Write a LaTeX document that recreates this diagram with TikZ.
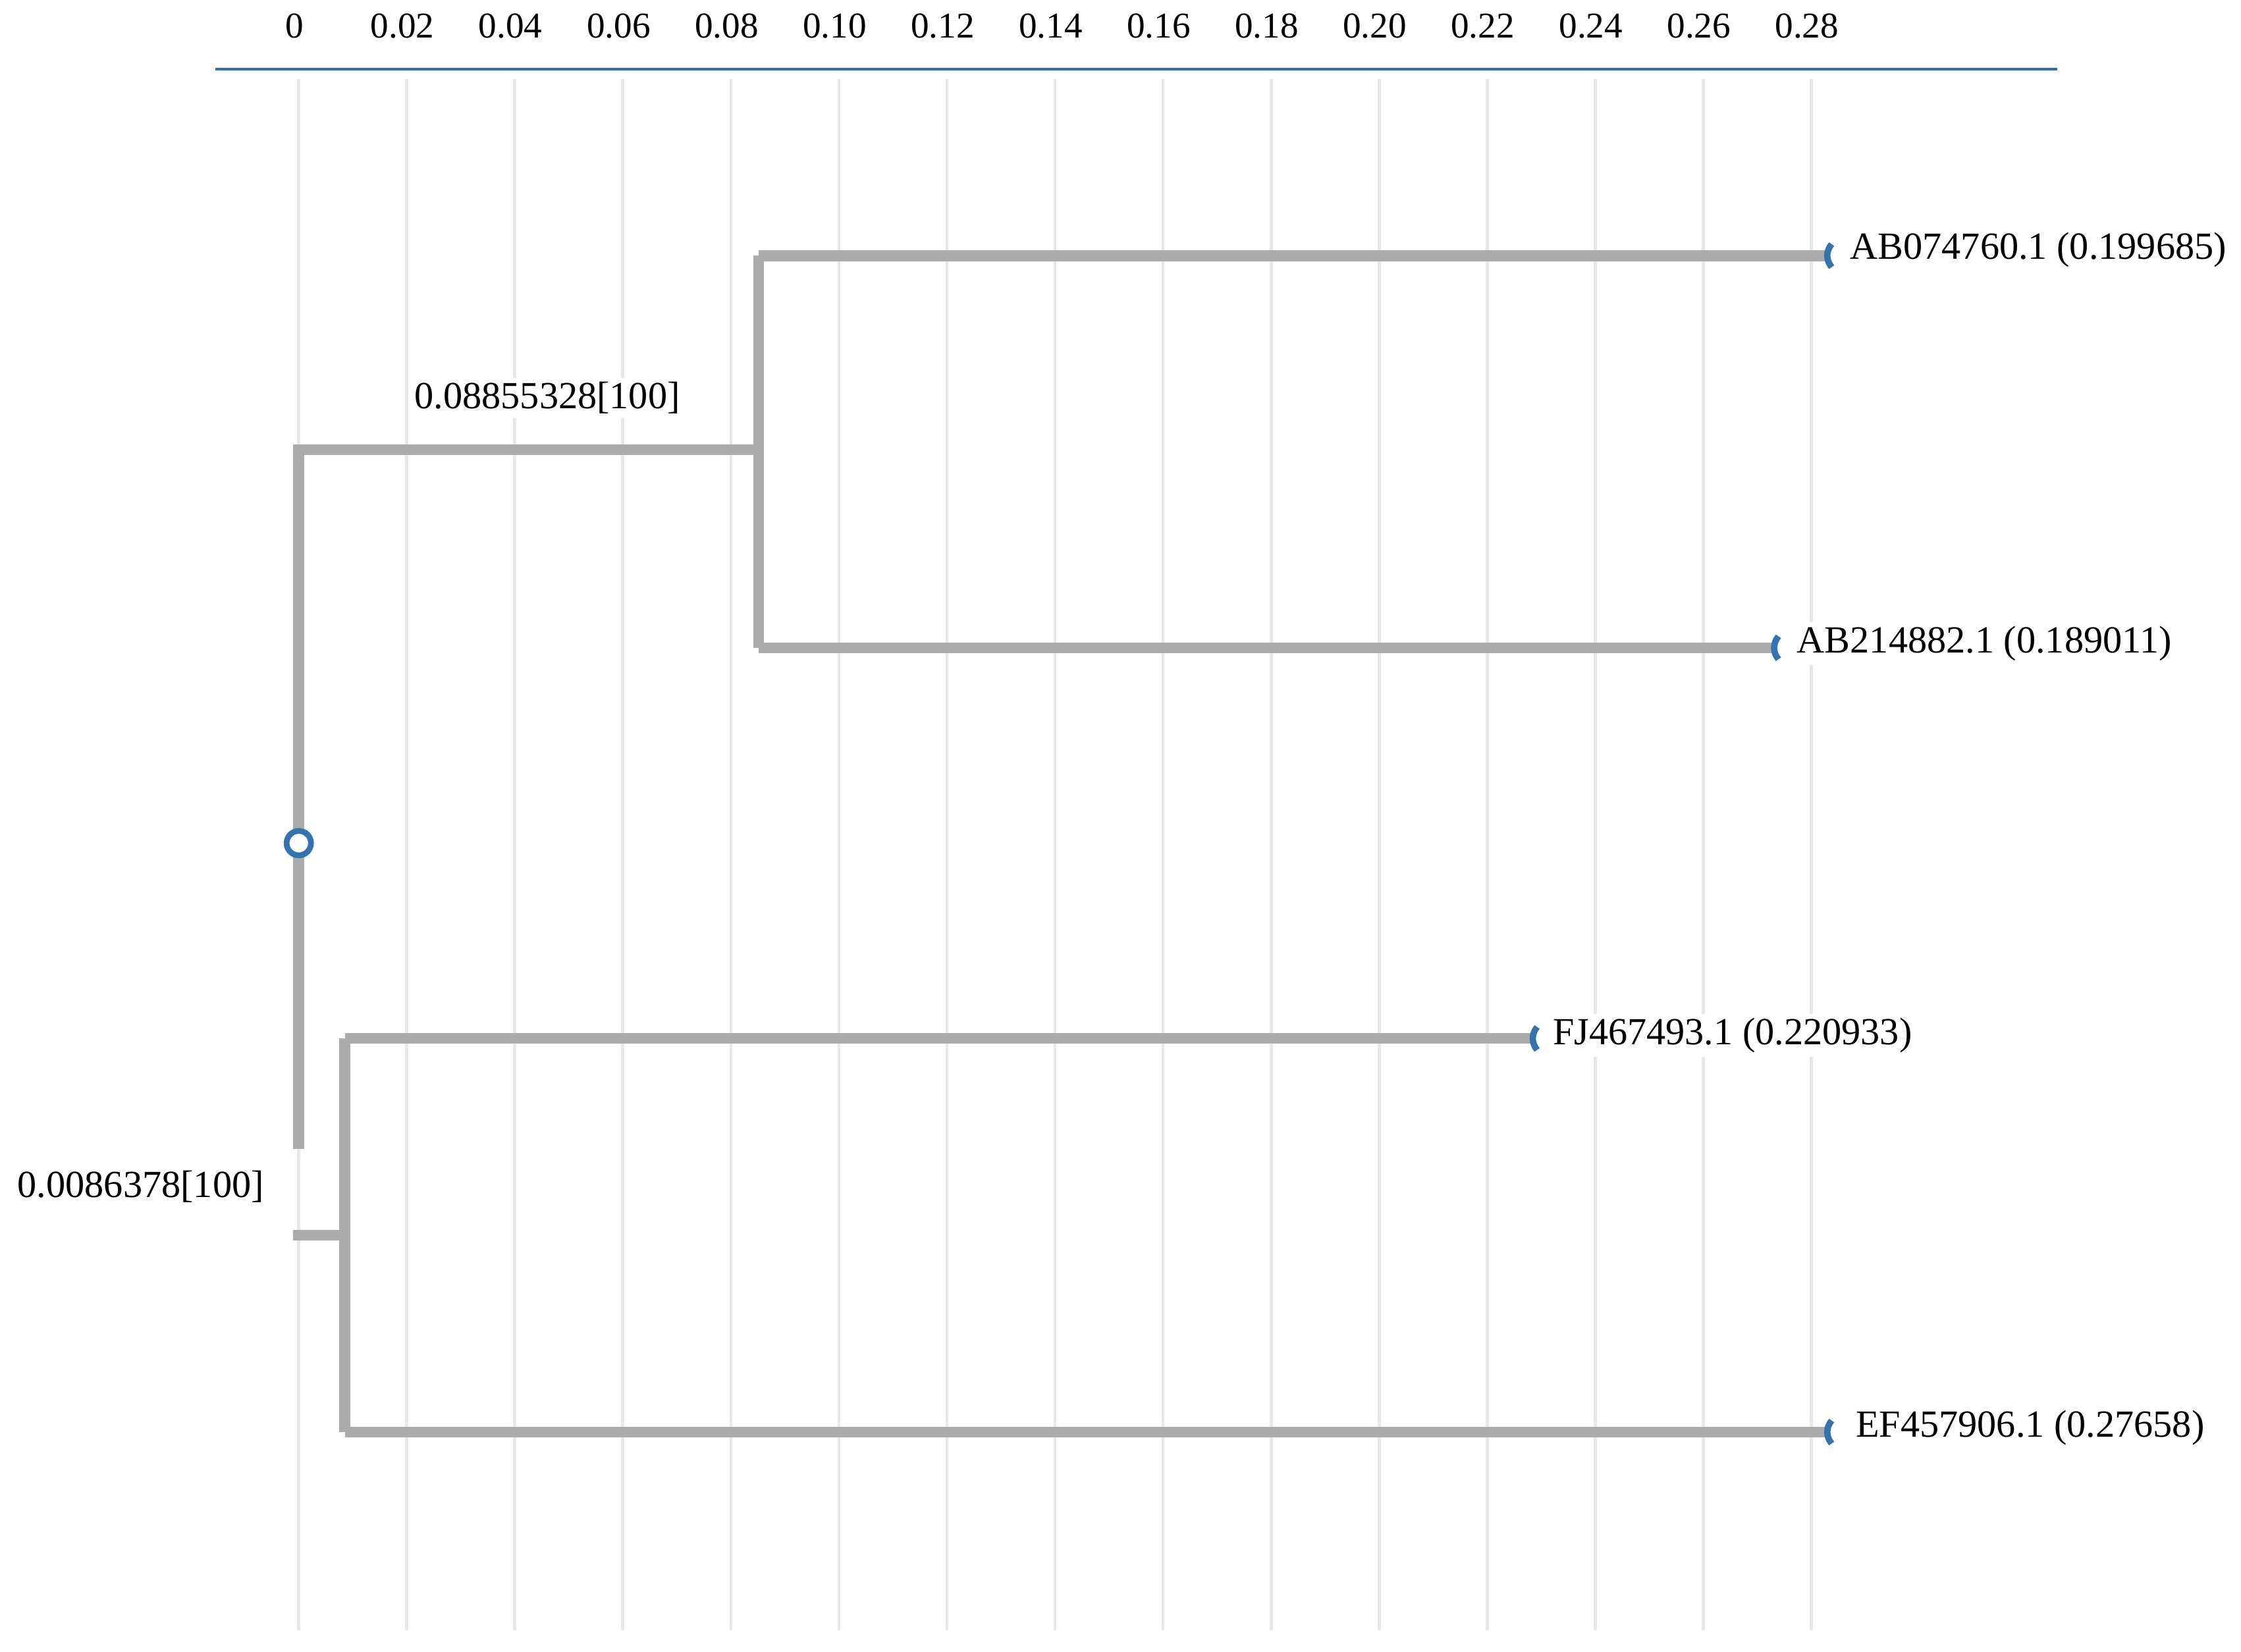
\documentclass[tikz,border=0pt]{standalone}
\usepackage{fontspec}
\setmainfont{Liberation Serif}
\begin{document}
\begin{tikzpicture}[x=0.05cm,y=-0.05cm,
  grid/.style={draw=black!9,line width=0.11cm},
  branch/.style={draw=black!33,line width=0.38cm},
  lbl/.style={font=\fontsize{38}{42}\selectfont,fill=white,inner sep=4pt},
  leaf/.style={font=\fontsize{38}{42}\selectfont,fill=white,anchor=west,inner sep=4pt},
  tip/.style={draw=cyan!60!blue!80!black,line width=0.22cm}]
\useasboundingbox (0,0) rectangle (1560,1150);
% grid
\foreach \i/\t in {0/0,1/0.02,2/0.04,3/0.06,4/0.08,5/0.10,6/0.12,7/0.14,8/0.16,9/0.18,10/0.20,11/0.22,12/0.24,13/0.26,14/0.28}{
  \draw[grid] (208+75.2*\i,55) -- (208+75.2*\i,1135);
  \node[font=\fontsize{36}{40}\selectfont] (t\i) at (205+75.2*\i,18) {\t};
}
\draw[draw=cyan!55!blue!85!black,line width=0.1cm] (150,48) -- (1432,48);
% coordinates
\coordinate (r1) at (208,313);
\coordinate (r2) at (208,800);
\coordinate (a) at (528,313);
\coordinate (a1) at (528,178);
\coordinate (a2) at (528,451);
\coordinate (b0) at (204,860);
\coordinate (b) at (240,860);
\coordinate (b1) at (240,723);
\coordinate (b2) at (240,997);
% labels (white background)
\node[lbl] (la) at (381,277) {0.08855328[100]};
\node[lbl] (lb) at (98,826) {0.0086378[100]};
\node[leaf] (L1) at (1285,174) {AB074760.1 (0.199685)};
\node[leaf] (L2) at (1248,448) {AB214882.1 (0.189011)};
\node[leaf] (L3) at (1078,721) {FJ467493.1 (0.220933)};
\node[leaf] (L4) at (1289,994) {EF457906.1 (0.27658)};
\coordinate (e1) at (1272,178);
\coordinate (e2) at (1235,451);
\coordinate (e3) at (1067,723);
\coordinate (e4) at (1272,997);
% branches
\draw[branch] (r2) -- (r1) -- (a);
\draw[branch] (a1) -- (a2);
\draw[branch] (a1) -- (e1);
\draw[branch] (a2) -- (e2);
\draw[branch] (b0) -- (b);
\draw[branch] (b1) -- (b2);
\draw[branch] (b1) -- (e3);
\draw[branch] (b2) -- (e4);
% tips
\foreach \e in {e1,e2,e3,e4}{
  \draw[tip] ([shift={(3,-8)}]\e) to[bend right=40] ([shift={(3,8)}]\e);
}
\node[circle,draw=cyan!60!blue!80!black,line width=0.2cm,fill=white,minimum size=0.85cm,inner sep=0] (root) at (208,587) {};
\end{tikzpicture}
\end{document}
